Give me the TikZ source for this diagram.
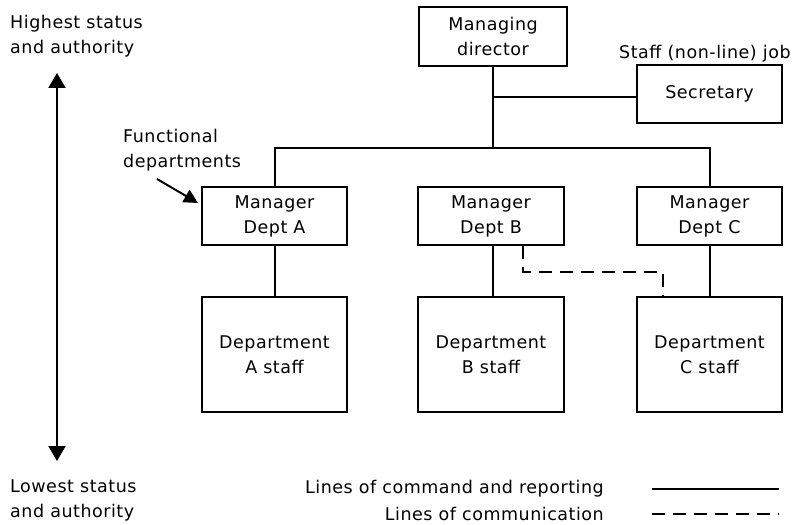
\documentclass[tikz,border=0pt]{standalone}
\usepackage{fontspec}
\setmainfont[LetterSpace=3]{DejaVu Sans}
\usetikzlibrary{arrows.meta}
\begin{document}
\begin{tikzpicture}[x=1pt,y=-1pt,
  box/.style={draw,line width=2pt,inner sep=0pt,align=center,font=\fontsize{17.5}{25}\selectfont},
  lbl/.style={inner sep=0pt,font=\fontsize{17.5}{25}\selectfont},
  ln/.style={line width=2pt},
  dl/.style={line width=2pt,dash pattern=on 13pt off 8pt},
  tip/.style={Triangle[length=15pt,width=17pt]}]
\useasboundingbox (0,0) rectangle (799,524);
\node[box,minimum width=148pt,minimum height=59pt] (md) at (493,36.5) {Managing\\director};
\node[box,minimum width=145pt,minimum height=58pt] (sec) at (709.5,94) {Secretary};
\node[box,minimum width=145pt,minimum height=58pt] (ma) at (274.5,216) {Manager\\Dept A};
\node[box,minimum width=146pt,minimum height=58pt] (mb) at (491,216) {Manager\\Dept B};
\node[box,minimum width=145pt,minimum height=58pt] (mc) at (709.5,216) {Manager\\Dept C};
\node[box,minimum width=145pt,minimum height=115pt] (da) at (274.5,354.5) {Department\\A staff};
\node[box,minimum width=146pt,minimum height=115pt] (db) at (491,354.5) {Department\\B staff};
\node[box,minimum width=145pt,minimum height=115pt] (dc) at (709.5,354.5) {Department\\C staff};
\coordinate (j1) at (493,97);
\coordinate (j2) at (493,148);
\coordinate (ja) at (274.5,148);
\coordinate (jc) at (709.5,148);
\draw[ln] (md.south -| j1) -- (j2);
\draw[ln] (j1) -- (sec.west |- j1);
\draw[ln] (ma.north) -- (ja) -- (jc) -- (mc.north);
\draw[ln] (ma.south) -- (da.north);
\draw[ln] (mb.south -| j2) -- (db.north -| j2);
\draw[ln] (mc.south) -- (dc.north);
\coordinate (d1) at (523,272);
\coordinate (d2) at (663,272);
\draw[dl] (mb.south -| d1) -- (d1) -- (d2) -- (dc.north -| d2);
\node[lbl,anchor=west,align=left] (hi) at (10,36) {Highest status\\and authority};
\node[lbl,anchor=west,align=left] (lo) at (10,500) {Lowest status\\and authority};
\coordinate (at) at (57,73);
\coordinate (ab) at (57,461);
\draw[ln,{Triangle[length=15pt,width=17pt]}-{Triangle[length=15pt,width=17pt]}] (at) -- (ab);
\node[lbl,anchor=west,align=left] (fn) at (123,150) {Functional\\departments};
\coordinate (fs) at (157,179);
\coordinate (ft) at (198,203);
\draw[ln,-{Triangle[length=14pt,width=14pt]}] (fs) -- (ft);
\node[lbl,anchor=south west] (sj) at (619,62) {Staff (non-line) job};
\node[lbl,anchor=east] (l1) at (604,489) {Lines of command and reporting};
\node[lbl,anchor=east] (l2) at (604,514) {Lines of communication};
\coordinate (s1) at (652,489);
\coordinate (s2) at (779,489);
\coordinate (t1) at (652,514);
\coordinate (t2) at (779,514);
\draw[ln] (s1) -- (s2);
\draw[dl] (t1) -- (t2);
\end{tikzpicture}
\end{document}
